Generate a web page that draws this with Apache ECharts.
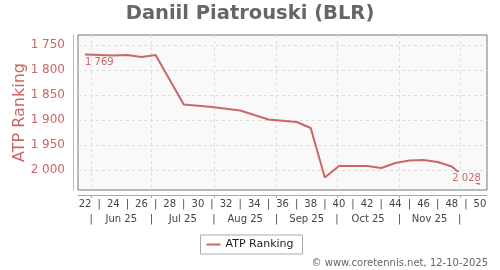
<!DOCTYPE html>
<html>
<head>
<meta charset="utf-8">
<script src="https://cdn.jsdelivr.net/npm/echarts@6/dist/echarts.min.js"></script>
<style>
html,body{margin:0;padding:0;background:#fff;}
#chart{width:500px;height:270px;}
</style>
</head>
<body>
<div id="chart"></div>
<script>
// ---- data ----
const titleText = 'Daniil Piatrouski (BLR)';
const seriesName = 'ATP Ranking';
const weeks = [22,24,25,26,27,29,31,33,35,37,38,39,40,41,42,43,44,45,46,47,48,49,50];
const ranks = [1769,1771,1770,1774,1770,1869,1874,1881,1899,1904,1916,2015,1992,1992,1992,1996,1986,1981,1980,1984,1993,2017,2028];
const yTicks = [1750,1800,1850,1900,1950,2000];
const weekTicks = [22,23,24,25,26,27,28,29,30,31,32,33,34,35,36,37,38,39,40,41,42,43,44,45,46,47,48,49,50];
const monthNames = ['Jun 25','Jul 25','Aug 25','Sep 25','Oct 25','Nov 25'];
const monthStarts = ['2025-06-01','2025-07-01','2025-08-01','2025-09-01','2025-10-01','2025-11-01','2025-12-01'];
const refWeek = 22, refDate = '2025-05-29'; // Thursday of ISO week 22
const footer = '\u00a9 www.coretennis.net, 12-10-2025';

// ---- helpers ----
const DAY = 864e5;
const toWeek = d => refWeek + (Date.parse(d) - Date.parse(refDate)) / (7 * DAY);
const bounds = monthStarts.map(toWeek);
const monthAxisVals = [];
bounds.forEach((b, i) => {
  monthAxisVals.push(b);
  if (i < bounds.length - 1) monthAxisVals.push((b + bounds[i + 1]) / 2);
});
const fmt = v => String(Math.round(v)).replace(/\B(?=(\d{3})+(?!\d))/g, ' ');
const RED = '#cc6666';

const chart = echarts.init(document.getElementById('chart'), null, {renderer: 'canvas'});
chart.setOption({
  animation: false,
  textStyle: {fontFamily: 'DejaVu Sans'},
  title: [
    {text: titleText, left: 'center', top: 4, padding: 0,
     textStyle: {fontSize: 19.5, fontWeight: 'bold', color: '#666', fontFamily: 'DejaVu Sans'}},
    {text: footer, right: 12, top: 258, padding: 0,
     textStyle: {fontSize: 10, fontWeight: 'normal', color: '#666', fontFamily: 'DejaVu Sans'}}
  ],
  legend: {
    data: [{name: seriesName, icon: 'rect'}],
    left: 'center', top: 235,
    itemWidth: 14, itemHeight: 2, itemGap: 5,
    padding: [4, 9, 4, 6],
    borderColor: '#aaa', borderWidth: 1, backgroundColor: '#fff',
    textStyle: {fontSize: 11, color: '#222', fontFamily: 'DejaVu Sans'}
  },
  grid: {left: 78, top: 35, width: 409, height: 155, show: true,
         backgroundColor: '#f9f9f9', borderColor: '#777', borderWidth: 1,
         containLabel: false},
  xAxis: [
    {type: 'value', min: 21.5, max: 50.5, position: 'bottom', offset: 5,
     axisLine: {show: true, lineStyle: {color: '#aaa', width: 1}},
     axisTick: {show: true, customValues: bounds, length: 3, lineStyle: {color: '#aaa'}},
     splitLine: {show: true, lineStyle: {color: '#ddd', type: [3, 3]}},
     axisLabel: {show: true, customValues: weekTicks, margin: 4, fontSize: 10, color: '#444',
                 formatter: v => (Math.round(v) % 2 ? '|' : String(Math.round(v)))}},
    {type: 'value', min: 21.5, max: 50.5, position: 'bottom', offset: 5,
     axisLine: {show: false}, axisTick: {show: false}, splitLine: {show: false},
     axisLabel: {show: true, customValues: monthAxisVals, margin: 19, fontSize: 10, color: '#444',
                 formatter: v => {
                   const i = monthAxisVals.findIndex(m => Math.abs(m - v) < 1e-6);
                   return i % 2 ? monthNames[(i - 1) / 2] : '|';
                 }}}
  ],
  yAxis: {
    type: 'value', inverse: true, min: 1730, max: 2040, offset: 5,
    name: seriesName, nameLocation: 'middle', nameRotate: 90, nameGap: 45,
    nameMoveOverlap: false,
    nameTextStyle: {fontSize: 16, color: RED, fontFamily: 'DejaVu Sans'},
    axisLine: {show: true, lineStyle: {color: '#e0a8a8', width: 1}},
    axisTick: {show: false, customValues: yTicks},
    splitLine: {show: true, lineStyle: {color: '#ddd', type: [3, 3]}},
    axisLabel: {customValues: yTicks, fontSize: 12, color: RED, margin: 8, formatter: v => fmt(v)}
  },
  series: [{
    name: seriesName, type: 'line', xAxisIndex: 0,
    data: weeks.map((w, i) => [w, ranks[i]]),
    showSymbol: false, symbol: 'none',
    lineStyle: {color: RED, width: 2}, itemStyle: {color: RED},
    z: 3,
    markPoint: {
      symbol: 'circle', symbolSize: 0, silent: true,
      itemStyle: {color: 'transparent'},
      data: [
        {type: 'min', valueDim: 'y',
         label: {show: true, position: 'bottom', align: 'left', distance: 3,
                 fontSize: 10, color: RED, formatter: p => fmt(p.value)}},
        {type: 'max', valueDim: 'y',
         label: {show: true, position: 'top', align: 'right', distance: 1, offset: [2, 0],
                 fontSize: 10, color: RED, backgroundColor: '#f9f9f9', padding: [1, 1, 0, 1],
                 formatter: p => fmt(p.value)}}
      ]
    }
  }]
});
</script>
</body>
</html>
